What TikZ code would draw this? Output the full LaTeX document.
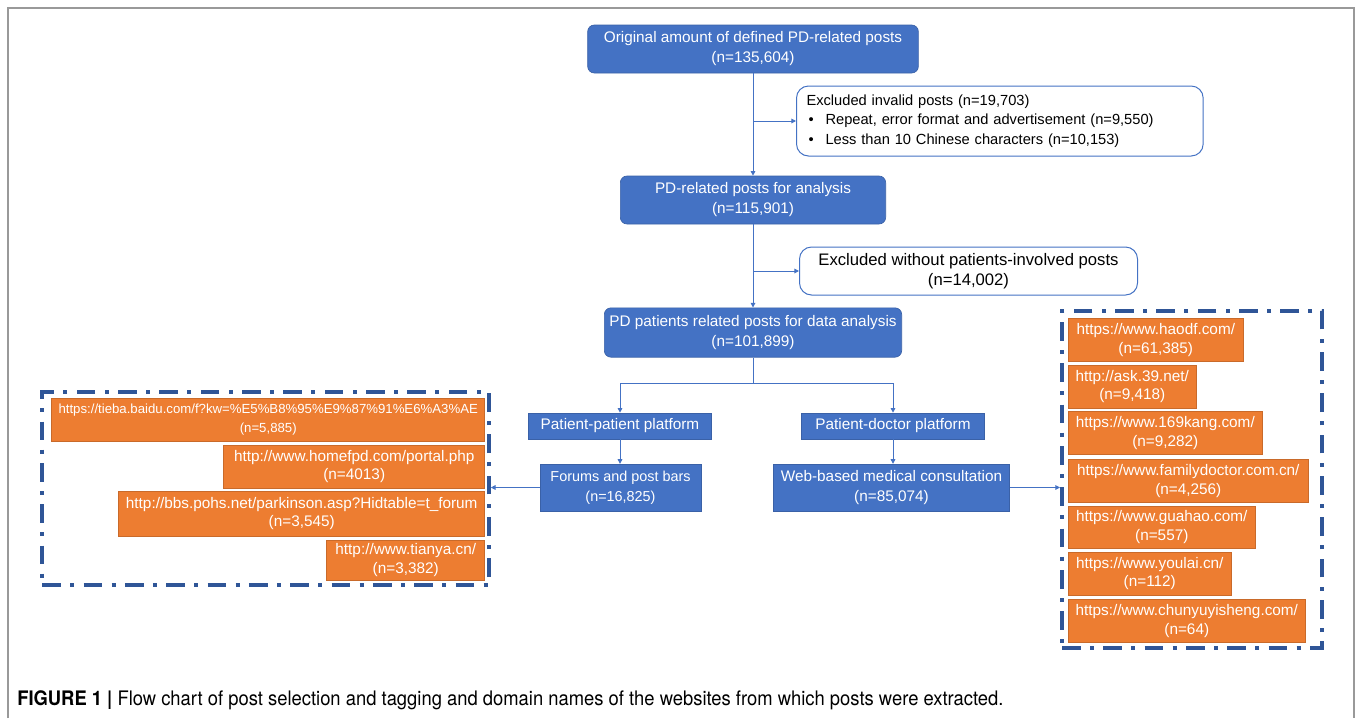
\documentclass[tikz,border=0pt]{standalone}
\usepackage{fontspec}
\setmainfont{Liberation Sans}
\newfontfamily\capfont[FakeStretch=0.92]{TeX Gyre Heros}
\usetikzlibrary{arrows.meta}

\definecolor{boxblue}{HTML}{4472C4}
\definecolor{framblue}{HTML}{2F5597}
\definecolor{siteorange}{HTML}{ED7D31}

\tikzset{
  flowbox/.style={rounded corners=5pt, fill=boxblue, draw=boxblue!85!black, line width=0.5pt,
    text=white, align=center, inner sep=2pt, font=\fontsize{11.5}{15}\selectfont},
  platbox/.style={flowbox, rounded corners=0pt},
  exclbox/.style={rounded corners=9pt, draw=boxblue, fill=white, line width=0.75pt,
    inner xsep=7.5pt, inner ysep=2pt},
  sitebox/.style={fill=siteorange, draw=siteorange!85!black, line width=0.4pt, text=white,
    align=center, inner sep=1pt, minimum height=32.5pt, font=\fontsize{11.5}{14}\selectfont},
  groupframe/.style={draw=framblue, line width=3pt, dash pattern=on 14pt off 7pt on 3pt off 7pt},
  link/.style={draw=boxblue, line width=0.75pt, -{Triangle[length=3.5pt,width=3.5pt]}}
}

\begin{document}
\begin{tikzpicture}[x=0.75pt, y=-0.75pt]
		\useasboundingbox (0,0) rectangle (1358,718);
		% outer frame of the figure
		\draw[gray!80, line width=1pt] (8,718) -- (8,8) -- (1354,8) -- (1354,718);
		
		% Draw the flow nodes
		\node[flowbox, minimum width=248pt, minimum height=36pt] (orig) at (753,49) {Original amount of defined PD-related posts\\(n=135,604)};
		\node[exclbox, anchor=west, text width=290pt, minimum height=52.5pt, align=left,
		      font=\fontsize{11}{14.5}\selectfont] (excl1) at (796,121)
		      {Excluded invalid posts (n=19,703)\\
		       \hspace*{1.5pt}\makebox[12.75pt][l]{\textbullet}Repeat, error format and advertisement (n=9,550)\\
		       \hspace*{1.5pt}\makebox[12.75pt][l]{\textbullet}Less than 10 Chinese characters (n=10,153)};
		\node[flowbox, minimum width=199pt, minimum height=36pt] (ana) at (753,200) {PD-related posts for analysis\\(n=115,901)};
		\node[exclbox, anchor=west, minimum width=253.5pt, minimum height=36pt, align=center,
		      font=\fontsize{12.5}{15}\selectfont] (excl2) at (799,271) {Excluded without patients-involved posts\\(n=14,002)};
		\node[flowbox, minimum width=223pt, minimum height=37pt] (pdp) at (753,332.5) {PD patients related posts for data analysis\\(n=101,899)};
		\coordinate (split) at (753,383);
		
		% Draw the platform nodes
		\node[platbox, minimum width=137pt, minimum height=19.5pt] (pp) at (620,426) {Patient-patient platform};
		\node[platbox, minimum width=137pt, minimum height=19.5pt] (pd) at (893,426) {Patient-doctor platform};
		\node[platbox, minimum width=121pt, minimum height=35pt, font=\fontsize{10.8}{15}\selectfont] (forum) at (620.5,487.5) {Forums and post bars\\(n=16,825)};
		\node[platbox, minimum width=177pt, minimum height=35pt] (web) at (891.5,487.5) {Web-based medical consultation\\(n=85,074)};
		
		% Draw the groups of websites
		\node[groupframe, minimum width=335pt, minimum height=144.75pt] (leftgroup) at (265.5,488.5) {};
		\node[groupframe, minimum width=195pt, minimum height=252.75pt] (rightgroup) at (1192,479.5) {};
		
		\node[sitebox, anchor=east, minimum width=324.75pt, font=\fontsize{9.9}{14}\selectfont] (tieba) at (485,419.5) {https://tieba.baidu.com/f?kw=\%E5\%B8\%95\%E9\%87\%91\%E6\%A3\%AE\\(n=5,885)};
		\node[sitebox, anchor=east, minimum width=195.75pt] (homefpd) at (485,466.5) {http://www.homefpd.com/portal.php\\(n=4013)};
		\node[sitebox, anchor=east, minimum width=274.5pt, minimum height=33.75pt] (pohs) at (485,513.5) {http://bbs.pohs.net/parkinson.asp?Hidtable=t\_forum\\(n=3,545)};
		\node[sitebox, anchor=east, minimum width=118.5pt, minimum height=30pt] (tianya) at (485,560) {http://www.tianya.cn/\\(n=3,382)};
		
		\node[sitebox, anchor=west, minimum width=131.25pt] (haodf) at (1068,340) {https://www.haodf.com/\\(n=61,385)};
		\node[sitebox, anchor=west, minimum width=96pt] (ask) at (1068,386.5) {http://ask.39.net/\\(n=9,418)};
		\node[sitebox, anchor=west, minimum width=145.5pt] (kang) at (1068,433) {https://www.169kang.com/\\(n=9,282)};
		\node[sitebox, anchor=west, minimum width=180pt] (famdoc) at (1068,481) {https://www.familydoctor.com.cn/\\(n=4,256)};
		\node[sitebox, anchor=west, minimum width=140.25pt, minimum height=31.5pt] (guahao) at (1068,527) {https://www.guahao.com/\\(n=557)};
		\node[sitebox, anchor=west, minimum width=122.25pt] (youlai) at (1068,573.5) {https://www.youlai.cn/\\(n=112)};
		\node[sitebox, anchor=west, minimum width=177.75pt] (chunyu) at (1068,621) {https://www.chunyuyisheng.com/\\(n=64)};
		
		% Draw the connectors
		\draw[link] (orig) -- (ana);
		\draw[link] (orig.south |- excl1.west) -- (excl1.west);
		\draw[link] (ana) -- (pdp);
		\draw[link] (ana.south |- excl2.west) -- (excl2.west);
		\draw[boxblue, line width=0.75pt] (pdp.south) -- (split);
		\draw[link] (split) -| (pp.north);
		\draw[link] (split) -| (pd.north);
		\draw[link] (pp.south) -- (pp.south |- forum.north);
		\draw[link] (pd.south) -- (pd.south |- web.north);
		\draw[link] (forum.west) -- (forum.west -| leftgroup.east);
		\draw[link] (web.east) -- (web.east -| rightgroup.west);
		
		% caption
		\node[anchor=west, inner sep=0pt, font=\capfont\fontsize{15}{17}\selectfont] (caption) at (17,700)
		  {\textbf{FIGURE 1 |} Flow chart of post selection and tagging and domain names of the websites from which posts were extracted.};
	\end{tikzpicture}
\end{document}
